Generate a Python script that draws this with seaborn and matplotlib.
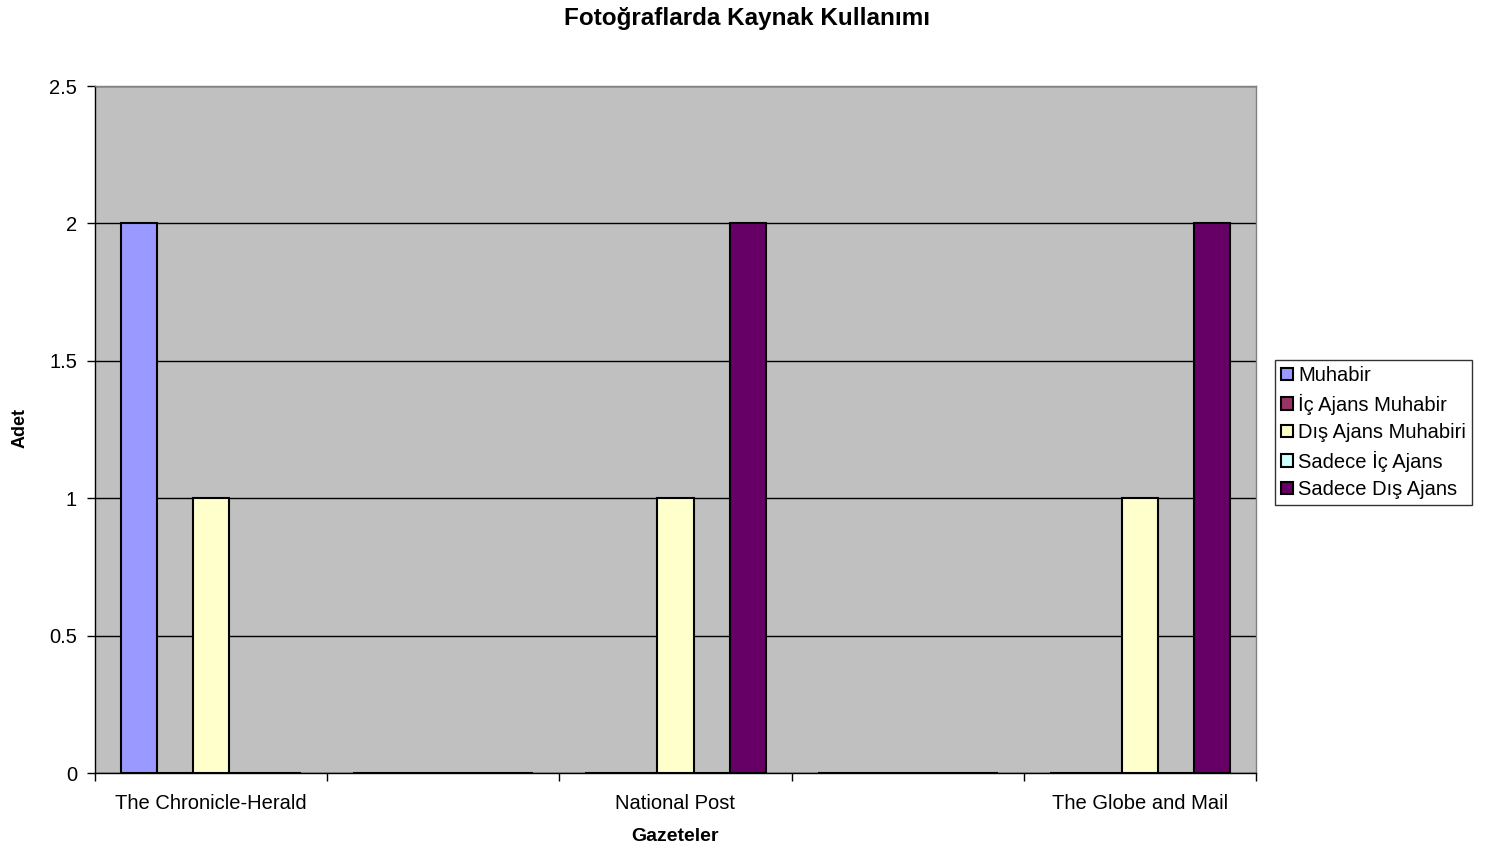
import pandas as pd
import matplotlib
matplotlib.use("Agg")
import matplotlib.pyplot as plt
import seaborn as sns

# categories (Excel skipped the labels of the 2nd and 4th slot)
gazeteler = ["The Chronicle-Herald", "bos1", "National Post", "bos2", "The Globe and Mail"]
etiketler = ["The Chronicle-Herald", "", "National Post", "", "The Globe and Mail"]
seriler = ["Muhabir", "İç Ajans Muhabir", "Dış Ajans Muhabiri", "Sadece İç Ajans", "Sadece Dış Ajans"]

muhabir = [2, 0, 0, 0, 0]
ic_ajans_muhabir = [0, 0, 0, 0, 0]
dis_ajans_muhabiri = [1, 0, 1, 0, 1]
sadece_ic_ajans = [0, 0, 0, 0, 0]
sadece_dis_ajans = [0, 0, 2, 0, 2]

renkler = ["#9999FF", "#993366", "#FFFFCC", "#CCFFFF", "#660066"]

rows = []
for seri, vals in zip(seriler, [muhabir, ic_ajans_muhabir, dis_ajans_muhabiri,
                                sadece_ic_ajans, sadece_dis_ajans]):
    for g, v in zip(gazeteler, vals):
        rows.append({"Gazeteler": g, "Seri": seri, "Adet": v})
df = pd.DataFrame(rows)

sns.set_style("white")
plt.rcParams["font.family"] = ["Liberation Sans", "DejaVu Sans"]
plt.rcParams["text.color"] = "black"
plt.rcParams["axes.labelcolor"] = "black"
plt.rcParams["xtick.color"] = "black"
plt.rcParams["ytick.color"] = "black"

fig = plt.figure(figsize=(14.95, 8.47), dpi=100)
ax = fig.add_axes([95 / 1495, 74 / 847, 1161 / 1495, 687 / 847])
ax.set_facecolor("#C0C0C0")

sns.barplot(data=df, x="Gazeteler", y="Adet", hue="Seri", order=gazeteler,
            hue_order=seriler, palette=renkler, width=0.776, edgecolor="black",
            linewidth=1.5, saturation=1, ax=ax, legend=True)

ax.set_xlim(-0.5, 4.5)
ax.set_ylim(0, 2.5)
ax.set_yticks([0, 0.5, 1, 1.5, 2, 2.5])
ax.set_yticklabels(["0", "0.5", "1", "1.5", "2", "2.5"], fontsize=14.5)
ax.yaxis.grid(True, color="black", linewidth=1)
ax.set_axisbelow(True)

# tick marks at category boundaries, labels at centres
ax.set_xticks([i - 0.5 for i in range(6)])
ax.set_xticklabels([])
ax.set_xticks(range(5), minor=True)
ax.set_xticklabels(etiketler, minor=True, fontsize=14.5)
ax.tick_params(axis="x", which="major", length=6, width=1, color="black", direction="out", bottom=True)
ax.tick_params(axis="x", which="minor", length=0, pad=15)
ax.tick_params(axis="y", length=6, width=1, color="black", direction="out", left=True, pad=7)

for s in ["top", "right"]:
    ax.spines[s].set_color("#808080")
    ax.spines[s].set_linewidth(1)
for s in ["left", "bottom"]:
    ax.spines[s].set_color("black")
    ax.spines[s].set_linewidth(1)

ax.set_xlabel("Gazeteler", fontsize=14, fontweight="bold", labelpad=11)
ax.set_ylabel("")
fig.text(20 / 1495, 1 - 428 / 847, "Adet", rotation=90, ha="center", va="center",
         fontsize=13, fontweight="bold")
fig.text(0.5, 1 - 18 / 847, "Fotoğraflarda Kaynak Kullanımı", ha="center", va="center",
         fontsize=17.5, fontweight="bold")

handles, labels = ax.get_legend_handles_labels()
ax.get_legend().remove()
leg = fig.legend(handles, labels, loc="upper left", bbox_to_anchor=(1275 / 1495, 1 - 360 / 847),
                 fontsize=14.5, frameon=True, fancybox=False, edgecolor="black",
                 handlelength=0.6, handleheight=0.6, handletextpad=0.25, labelspacing=0.42,
                 borderpad=0.3, borderaxespad=0)
leg.get_frame().set_linewidth(1)

fig.savefig("out.png", dpi=100)
